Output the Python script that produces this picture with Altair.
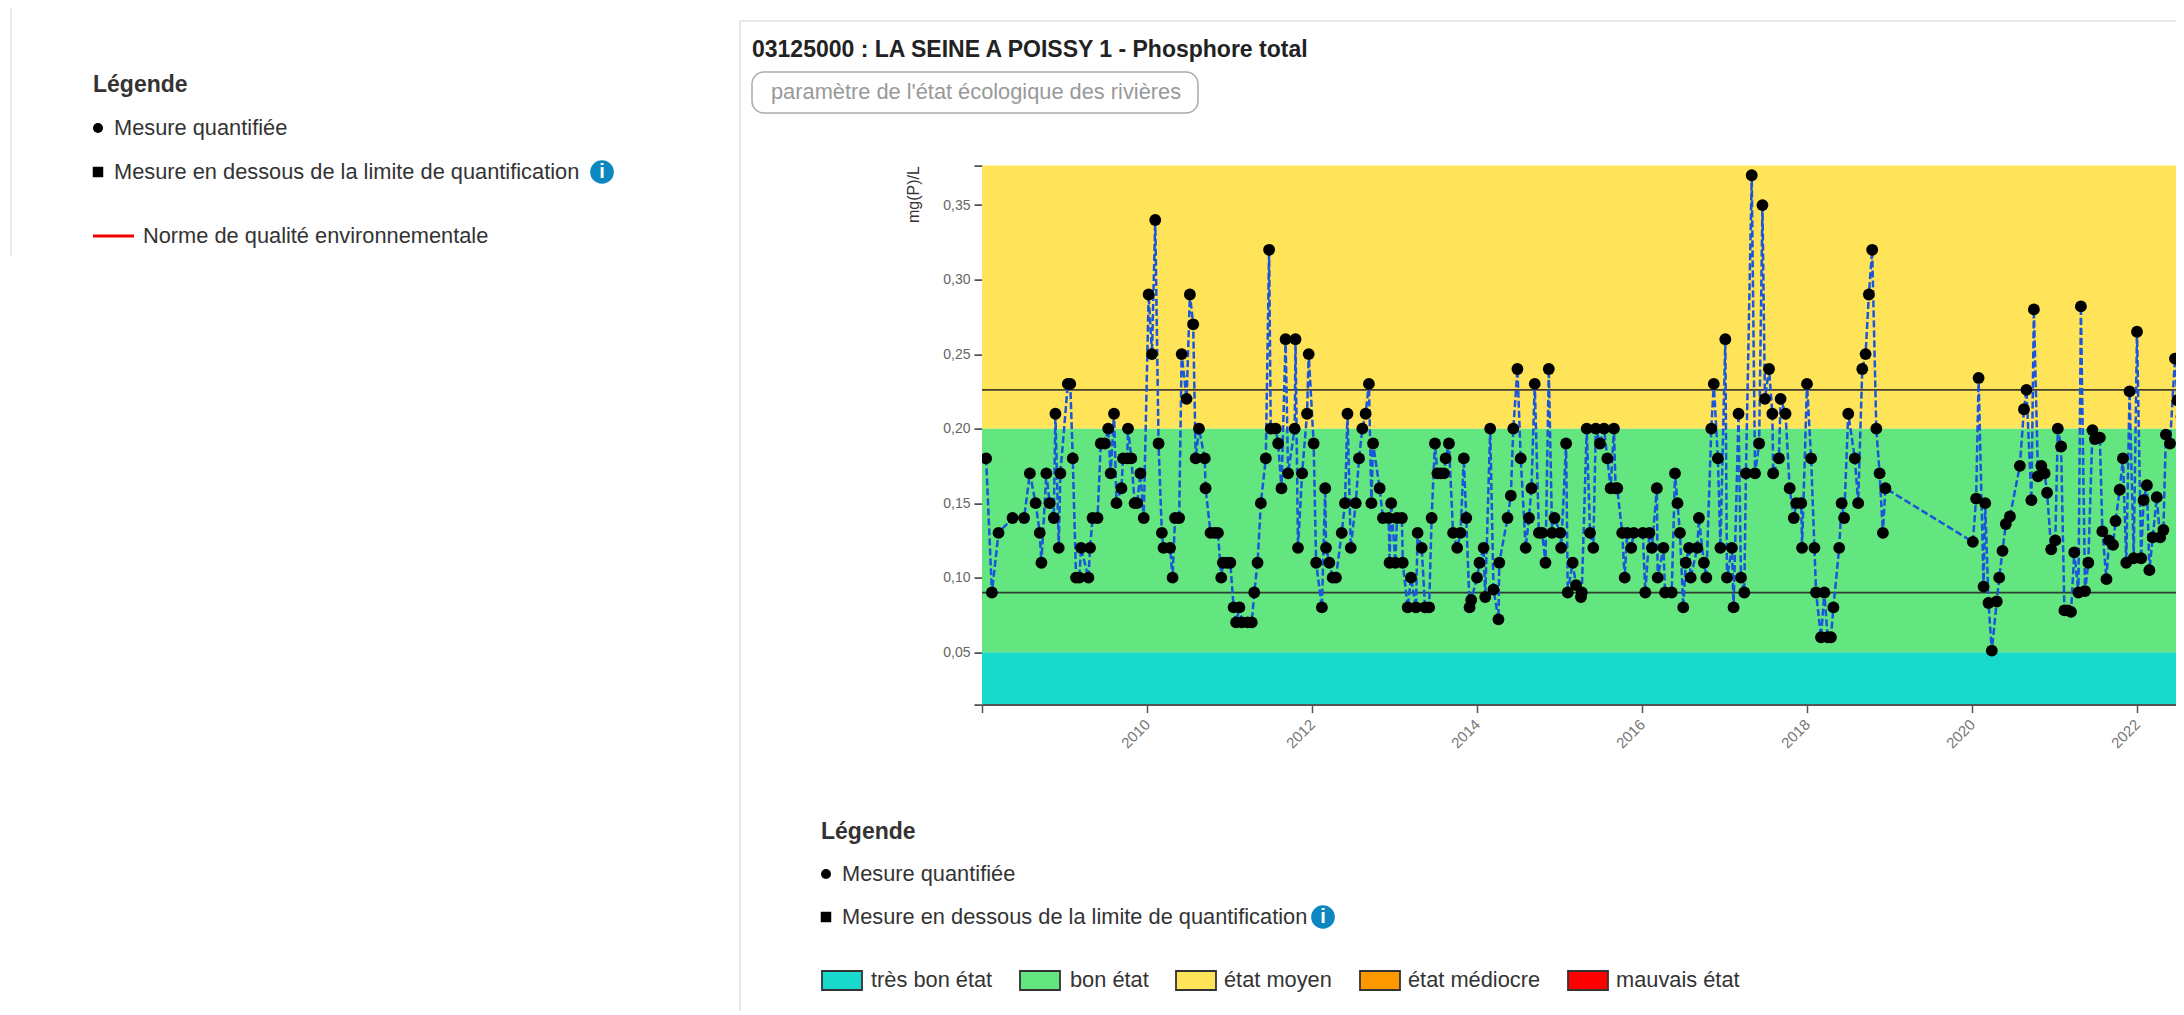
import altair as alt
import pandas as pd

years = [
2008.05,2008.12,2008.20,2008.37,2008.51,2008.58,2008.65,2008.70,2008.72,2008.78,2008.82,2008.87,2008.89,2008.93,2008.95,
2009.04,2009.07,2009.10,2009.14,2009.18,2009.20,2009.29,2009.31,2009.34,2009.40,2009.44,2009.49,2009.53,2009.56,2009.60,
2009.63,2009.69,2009.71,2009.76,2009.77,2009.81,2009.85,2009.88,2009.92,2009.96,
2010.02,2010.06,2010.10,2010.14,2010.18,2010.20,2010.28,2010.31,2010.34,2010.39,2010.42,2010.48,2010.52,2010.56,2010.59,
2010.63,2010.70,2010.71,2010.77,2010.82,2010.86,2010.90,2010.92,2010.97,
2011.01,2011.05,2011.08,2011.12,2011.15,2011.22,2011.27,2011.30,2011.34,2011.38,2011.44,2011.48,2011.50,2011.56,2011.59,
2011.63,2011.68,2011.71,2011.79,2011.80,2011.83,2011.88,2011.94,2011.96,
2012.02,2012.05,2012.12,2012.16,2012.17,2012.21,2012.25,2012.29,2012.36,2012.40,2012.43,2012.47,2012.53,2012.57,2012.61,
2012.65,2012.69,2012.72,2012.74,2012.82,2012.86,2012.93,2012.94,2012.96,
2013.01,2013.03,2013.09,2013.10,2013.16,2013.20,2013.26,2013.28,2013.33,2013.37,2013.42,2013.45,2013.49,2013.52,2013.56,
2013.60,2013.62,2013.66,2013.71,2013.76,2013.80,2013.84,2013.87,2013.91,2013.93,
2014.00,2014.03,2014.08,2014.10,2014.16,2014.20,2014.26,2014.27,2014.37,2014.41,2014.44,2014.49,2014.53,2014.59,2014.63,
2014.66,2014.70,2014.75,2014.79,2014.83,2014.87,2014.91,2014.94,
2015.01,2015.02,2015.08,2015.10,2015.16,2015.20,2015.26,2015.27,2015.33,2015.37,2015.41,2015.44,2015.49,2015.54,2015.58,
2015.62,2015.66,2015.68,2015.70,2015.76,2015.79,2015.82,2015.87,2015.90,
2016.01,2016.04,2016.09,2016.12,2016.18,2016.19,2016.26,2016.28,2016.36,2016.40,2016.43,2016.46,2016.50,2016.53,2016.57,
2016.59,2016.67,2016.69,2016.75,2016.78,2016.84,2016.87,2016.92,2016.95,
2017.01,2017.03,2017.09,2017.11,2017.17,2017.20,2017.24,2017.26,2017.33,2017.37,2017.42,2017.46,2017.49,2017.54,2017.58,
2017.59,2017.66,2017.68,2017.74,2017.79,2017.84,2017.87,2017.93,2017.94,
2018.00,2018.05,2018.09,2018.11,2018.17,2018.21,2018.25,2018.29,2018.32,2018.39,2018.42,2018.45,2018.50,2018.58,2018.62,
2018.67,2018.71,2018.75,2018.79,2018.84,2018.88,2018.92,2018.95,
2020.01,2020.05,2020.08,2020.14,2020.16,2020.20,2020.24,2020.30,2020.33,2020.37,2020.41,2020.46,2020.58,2020.63,2020.66,
2020.72,2020.75,2020.80,2020.84,2020.88,2020.91,2020.96,
2021.01,2021.04,2021.08,2021.12,2021.16,2021.20,2021.24,2021.29,2021.32,2021.37,2021.41,2021.46,2021.49,2021.55,2021.58,
2021.63,2021.66,2021.71,2021.74,2021.79,2021.83,2021.87,2021.91,2021.96,
2022.00,2022.05,2022.08,2022.12,2022.15,2022.19,2022.24,2022.28,2022.32,2022.35,2022.40,2022.46,2022.49,2022.54,
]
values = [
.18,.09,.13,.14,.14,.17,.15,.13,.11,.17,.15,.14,.21,.12,.17,
.23,.23,.18,.10,.10,.12,.10,.12,.14,.14,.19,.19,.20,.17,.21,
.15,.16,.18,.18,.20,.18,.15,.15,.17,.14,
.29,.25,.34,.19,.13,.12,.12,.10,.14,.14,.25,.22,.29,.27,.18,
.20,.18,.16,.13,.13,.13,.10,.11,.11,
.11,.08,.07,.08,.07,.07,.07,.09,.11,.15,.18,.32,.20,.20,.19,
.16,.26,.17,.20,.26,.12,.17,.21,.25,
.19,.11,.08,.16,.12,.11,.10,.10,.13,.15,.21,.12,.15,.18,.20,
.21,.23,.15,.19,.16,.14,.14,.11,.15,
.11,.14,.14,.11,.08,.10,.08,.13,.12,.08,.08,.14,.19,.17,.17,
.17,.18,.19,.13,.12,.13,.18,.14,.08,.085,
.10,.11,.12,.087,.20,.092,.072,.11,.14,.155,.20,.24,.18,.12,.14,
.16,.23,.13,.13,.11,.24,.13,.14,
.13,.12,.19,.09,.11,.095,.087,.09,.20,.13,.12,.20,.19,.20,.18,
.16,.20,.16,.16,.13,.10,.13,.12,.13,
.13,.09,.13,.12,.16,.10,.12,.09,.09,.17,.15,.13,.08,.11,.12,
.10,.12,.14,.11,.10,.20,.23,.18,.12,
.26,.10,.12,.08,.21,.10,.09,.17,.37,.17,.19,.35,.22,.24,.21,
.17,.18,.22,.21,.16,.14,.15,.15,.12,
.23,.18,.12,.09,.06,.09,.06,.06,.08,.12,.15,.14,.21,.18,.15,
.24,.25,.29,.32,.20,.17,.13,.16,
.124,.153,.234,.094,.15,.083,.051,.084,.10,.118,.136,.141,.175,.213,.226,
.152,.28,.168,.175,.17,.157,.119,
.125,.20,.188,.078,.078,.077,.117,.09,.282,.091,.11,.199,.193,.194,.131,
.099,.125,.122,.138,.159,.18,.11,.225,.113,
.265,.113,.152,.162,.105,.127,.154,.127,.132,.196,.19,.247,.219,.208,
]

band_low = [0.0148, 0.05, 0.20]
band_high = [0.05, 0.20, 0.3765]
band_name = ["très bon état", "bon état", "état moyen"]
band_color = ["#19D8CC", "#63E57F", "#FFE359"]
reference_lines = [0.09, 0.226]
y_ticks = [0.0148, 0.05, 0.10, 0.15, 0.20, 0.25, 0.30, 0.35, 0.3765]
x_ticks = [2008, 2010, 2012, 2014, 2016, 2018, 2020, 2022]

OX, OY = 982, 165.6   # plot origin on the page
W, H = 1194, 539
FONT = "Liberation Sans"
ONE = alt.Data(values=[{}])

xs = alt.Scale(domain=[2008, 2008 + W / 82.5], nice=False, zero=False)
ys = alt.Scale(domain=[0.0148, 0.3765], nice=False, zero=False)

def px(v): return alt.value(v - OX)
def py(v): return alt.value(v - OY)

def label(txt, x, y, size=21.8, color="#333333", bold=False, align="left"):
    return alt.Chart(ONE).mark_text(
        text=txt, font=FONT, fontSize=size, color=color, align=align, baseline="middle",
        fontWeight="bold" if bold else "normal", clip=False,
    ).encode(x=px(x), y=py(y))

def hline(x0, x1, y, color, width=1.5):
    return alt.Chart(ONE).mark_rule(color=color, strokeWidth=width).encode(
        x=px(x0), x2=px(x1), y=py(y))

def vline(x, y0, y1, color, width=1.5):
    return alt.Chart(ONE).mark_rule(color=color, strokeWidth=width).encode(
        x=px(x), y=py(y0), y2=py(y1))

def box(x0, x1, y0, y1, fill, stroke, width=1.8, radius=0):
    return alt.Chart(ONE).mark_rect(fill=fill, stroke=stroke, strokeWidth=width, cornerRadius=radius).encode(
        x=px(x0), x2=px(x1), y=py(y0), y2=py(y1))

def dot(x, y, shape="circle", size=100):
    return alt.Chart(ONE).mark_point(shape=shape, filled=True, color="#000000", size=size, opacity=1).encode(
        x=px(x), y=py(y))

def info(x, y):
    return (alt.Chart(ONE).mark_point(shape="circle", filled=True, color="#0C87C0", size=560, opacity=1).encode(x=px(x), y=py(y))
            + label("i", x, y, size=20, color="#FFFFFF", bold=True, align="center"))

def legend_rows(x, y_title, y1, y2, icon_x):
    return [
        label("Légende", x, y_title, size=23, bold=True),
        dot(x + 5, y1),
        label("Mesure quantifiée", x + 21, y1),
        dot(x + 5, y2, shape="square", size=110),
        label("Mesure en dessous de la limite de quantification", x + 21, y2),
        info(icon_x, y2),
    ]

df = pd.DataFrame({"year": years, "value": values})
bands = pd.DataFrame({"low": band_low, "high": band_high, "name": band_name, "color": band_color})

y_expr = "(datum.value < 0.04 || datum.value > 0.36) ? '' : replace(format(datum.value, '.2f'), '.', ',')"
x_expr = "datum.value == 2008 ? '' : format(datum.value, 'd')"

x_axis = alt.Axis(
    values=x_ticks, title=None, grid=False, labelExpr=x_expr, labelAngle=-45, labelAlign="right",
    labelBaseline="middle", labelFont=FONT, labelFontSize=15, labelColor="#777777", labelOverlap=False,
    labelPadding=9, tickSize=8, tickColor="#555555", tickWidth=1.5, domainColor="#555555", domainWidth=2, zindex=1)
y_axis = alt.Axis(
    values=y_ticks, title="mg(P)/L", grid=False, labelExpr=y_expr, labelFont=FONT, labelFontSize=14,
    labelColor="#666666", labelOverlap=False, labelPadding=4, tickSize=8, tickColor="#333333", tickWidth=1.5,
    domainColor="#AAAAAA", domainWidth=1, titleFont=FONT, titleFontSize=16, titleFontWeight="normal",
    titleColor="#333333", titleAngle=270, titleAlign="right", titleBaseline="bottom", titleX=-61, titleY=0)

band_layer = alt.Chart(bands).mark_rect().encode(
    x=alt.value(0), x2=alt.value(W),
    y=alt.Y("low:Q", scale=ys, axis=y_axis), y2="high:Q",
    color=alt.Color("color:N", scale=None, legend=None),
)
rule_layer = alt.Chart(pd.DataFrame({"v": reference_lines})).mark_rule(color="#222222", strokeWidth=1.8, opacity=0.85).encode(
    y=alt.Y("v:Q", scale=ys, axis=y_axis))
line_layer = alt.Chart(df).mark_line(color="#1A56DB", strokeWidth=2.5, strokeDash=[7, 3], clip=True).encode(
    x=alt.X("year:Q", scale=xs, axis=x_axis),
    y=alt.Y("value:Q", scale=ys, axis=y_axis),
)
point_layer = alt.Chart(df).mark_point(filled=True, color="#000000", size=140, opacity=1, clip=True).encode(
    x=alt.X("year:Q", scale=xs, axis=x_axis), y=alt.Y("value:Q", scale=ys, axis=y_axis))

legend_swatches = []
swatch_rows = [
    (822, 862, 871, "très bon état", "#19D8CC"),
    (1020, 1060, 1070, "bon état", "#63E57F"),
    (1176, 1216, 1224, "état moyen", "#FFE359"),
    (1360, 1400, 1408, "état médiocre", "#FF9900"),
    (1568, 1608, 1616, "mauvais état", "#FF0000"),
]
for x0, x1, xt, name, col in swatch_rows:
    legend_swatches += [box(x0, x1, 971, 990, col, "#333333"), label(name, xt, 980)]

chrome = [
    vline(11, 8, 256, "#E6E6E6"),
    vline(740, 21, 1011, "#E0E0E0"),
    hline(740, 2184, 21, "#E0E0E0"),
    label("03125000 : LA SEINE A POISSY 1 - Phosphore total", 752, 50, size=23, color="#222222", bold=True),
    box(752, 1198, 72, 113, "#FFFFFF", "#AAAAAA", width=1.5, radius=12),
    label("paramètre de l'état écologique des rivières", 771, 92, color="#999999"),
    hline(93, 134, 236, "#F00000", 3),
    label("Norme de qualité environnementale", 143, 236),
]

chart = alt.layer(
    band_layer, rule_layer, line_layer, point_layer,
    *chrome,
    *legend_rows(93, 85, 128, 172, 602),
    *legend_rows(821, 832, 874, 917, 1323),
    *legend_swatches,
).resolve_scale(color="independent").properties(
    width=W, height=H, autosize="none", background="#FFFFFF",
    padding={"left": OX - 8, "top": OY - 8, "right": 0, "bottom": 1003 - (OY - 8) - H},
).configure_view(stroke=None)

chart.save("out.html", embed_options={"renderer": "svg", "actions": False})
